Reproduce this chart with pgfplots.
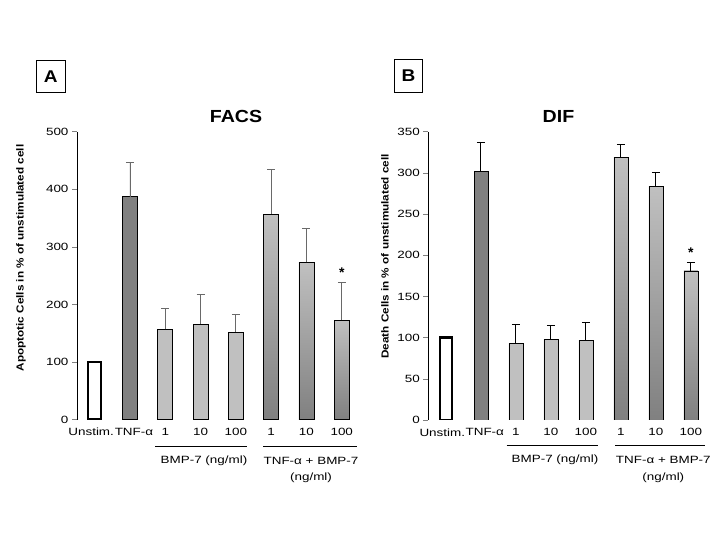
\documentclass[border=0pt]{standalone}
\usepackage{fontspec}
\setmainfont{Liberation Sans}
\usepackage{pgfplots}
\pgfplotsset{compat=1.18}
\newfontfamily\tickfont[FakeStretch=1.28]{Liberation Sans}
\newfontfamily\labfont[FakeStretch=1.15]{Liberation Sans}
\newfontfamily\titfont[FakeStretch=1.12]{Liberation Sans}
\definecolor{darkbar}{RGB}{128,128,128}
\definecolor{lightbar}{RGB}{192,192,192}
\definecolor{errA}{RGB}{105,105,105}
\pgfplotsset{
  panel/.style={
    scale only axis,
    xmin=-0.5, xmax=7.5, ymin=0,
    axis y line=left, axis x line=bottom,
    axis line style={-, line width=0.6pt},
    x axis line style={draw=none},
    xtick={0,...,7},
    xticklabels={\hspace*{-7pt}Unstim.,\hspace*{8pt}TNF-α,1,10,100,1,10,100},
    xtick style={draw=none},
    ytick pos=left,
    tick align=outside,
    major tick length=5pt,
    ytick style={line width=0.6pt},
    tick label style={font=\tickfont\fontsize{10.5}{12}\selectfont},
    /pgf/number format/assume math mode=true,
    error bars/y dir=plus, error bars/y explicit,
  },
  grad/.style={ybar, draw=black, line width=0.6pt, top color=lightbar, bottom color=darkbar},
}
\begin{document}
\begin{tikzpicture}[x=1pt,y=1pt]
\path[use as bounding box] (0,0) rectangle (720,540);
% panel labels
\node[draw, line width=0.6pt, minimum width=29.7pt, minimum height=32.7pt, inner sep=0pt, font=\titfont\bfseries\fontsize{17}{18}\selectfont] at (50.8,463.7) {A};
\node[draw, line width=0.6pt, minimum width=28.3pt, minimum height=33pt, inner sep=0pt, font=\titfont\bfseries\fontsize{17}{18}\selectfont] at (408.5,464.3) {B};
% titles
\node[font=\titfont\bfseries\fontsize{17.5}{18}\selectfont] at (236,424) {FACS};
\node[font=\titfont\bfseries\fontsize{17.5}{18}\selectfont] at (558.5,424) {DIF};
% y labels
\node[rotate=90, font=\labfont\bfseries\fontsize{10.2}{12}\selectfont] at (21,282) {Apoptotic Cells in \% of unstimulated cell};
\node[rotate=90, font=\labfont\bfseries\fontsize{10.2}{12}\selectfont] at (385,283.5) {Death Cells in \% of unstimulated cell};

\begin{axis}[panel, at={(77pt,120.3pt)}, anchor=south west,
  width=282.4pt, height=288pt, ymax=500, ytick={0,100,...,500},
  error bars/error bar style={line width=0.9pt, errA},
  error bars/error mark options={rotate=90, mark size=4pt, line width=0.9pt, errA}]
\addplot[ybar, bar width=13pt, draw=black, line width=2.4pt, fill=white] coordinates {(0,100)};
\addplot[ybar, bar width=15pt, draw=black, line width=0.6pt, fill=darkbar] coordinates {(1,387) +- (0,60)};
\addplot[ybar, bar width=15pt, draw=black, line width=0.6pt, fill=lightbar] coordinates {(2,157) +- (0,36) (3,166) +- (0,51) (4,152) +- (0,30)};
\addplot[grad, bar width=15pt] coordinates {(5,357) +- (0,78)};
\addplot[grad, bar width=15pt] coordinates {(6,273) +- (0,59)};
\addplot[grad, bar width=15pt] coordinates {(7,173) +- (0,66)};
\node[font=\bfseries\fontsize{14}{14}\selectfont] at (axis cs:7,256) {*};
\end{axis}

\begin{axis}[panel, at={(428.3pt,120pt)}, anchor=south west,
  width=280pt, height=288.3pt, ymax=350, ytick={0,50,...,350},
  error bars/error bar style={line width=0.7pt, black},
  error bars/error mark options={rotate=90, mark size=4pt, line width=0.7pt, black}]
\addplot[ybar, bar width=12pt, draw=black, line width=2.4pt, fill=white] coordinates {(0,100)};
\addplot[ybar, bar width=14pt, draw=black, line width=0.6pt, fill=darkbar] coordinates {(1,302) +- (0,35.5)};
\addplot[ybar, bar width=14pt, draw=black, line width=0.6pt, fill=lightbar] coordinates {(2,93) +- (0,22.7) (3,98) +- (0,16.5) (4,97) +- (0,21)};
\addplot[grad, bar width=14pt] coordinates {(5,319) +- (0,15.7)};
\addplot[grad, bar width=14pt] coordinates {(6,284) +- (0,16.7)};
\addplot[grad, bar width=14pt] coordinates {(7,181) +- (0,10)};
\node[font=\bfseries\fontsize{14}{14}\selectfont] at (axis cs:7,203) {*};
\end{axis}

% group annotations
\begin{scope}[font=\tickfont\fontsize{10.5}{12}\selectfont]
\draw[line width=0.6pt] (155,93.3) -- (246.7,93.3);
\draw[line width=0.6pt] (263.3,93.3) -- (357,93.3);
\node at (204,79.3) {BMP-7 (ng/ml)};
\node at (311,79.3) {TNF-α + BMP-7};
\node at (311,62.3) {(ng/ml)};
\draw[line width=0.6pt] (506.7,95) -- (598.3,95);
\draw[line width=0.6pt] (615,95) -- (705,95);
\node at (555,80) {BMP-7 (ng/ml)};
\node at (663.3,80) {TNF-α + BMP-7};
\node at (663.3,62.3) {(ng/ml)};
\end{scope}
\end{tikzpicture}
\end{document}
